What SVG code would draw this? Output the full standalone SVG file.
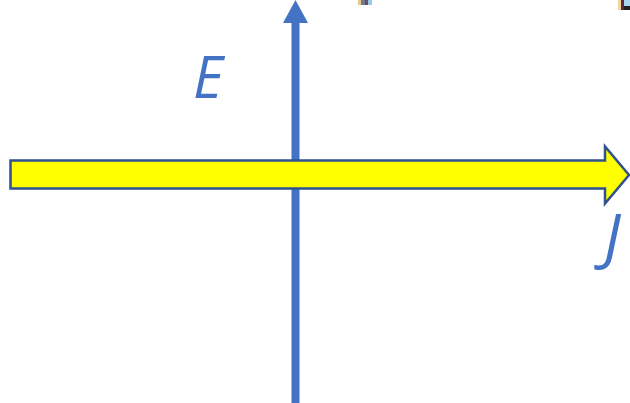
<svg xmlns="http://www.w3.org/2000/svg" width="630" height="403" viewBox="0 0 630 403">
<style>
.lbl{font-family:"Open Sans","Liberation Sans",sans-serif;font-style:italic;font-weight:400;fill:#4472C4;}
</style>
<rect width="630" height="403" fill="#FFFFFF"/>
<g id="connectors">
<line x1="295.5" y1="22" x2="295.5" y2="403" stroke="#4472C4" stroke-width="8"/>
<polygon points="295.5,0 308,23 283,23" fill="#4472C4"/>
</g>
<g id="current-arrow">
<polygon points="10.5,160.5 605,160.5 605,146.5 629,175 605,203.5 605,188.5 10.5,188.5" fill="#FFFF00" stroke="#2F528F" stroke-width="2.5" stroke-linejoin="miter"/>
</g>
<g id="label-E">
<text class="lbl" x="193" y="98" font-size="58">E</text>
</g>
<g id="label-J">
<text class="lbl" x="604" y="259" font-size="62">J</text>
</g>
<g id="artifacts">
<rect x="358" y="0" width="3" height="5" fill="#E8C690"/>
<rect x="361" y="0" width="4" height="5" fill="#6E7A8A"/>
<rect x="365" y="0" width="3" height="5" fill="#6A4A6A"/>
<rect x="368" y="0" width="4" height="5" fill="#9CC8E8"/>
<rect x="618" y="0" width="3" height="10" fill="#F5D69A"/>
<rect x="621" y="0" width="3" height="10" fill="#5A2A40"/>
<rect x="624" y="0" width="6" height="6" fill="#A8D8F0"/>
<rect x="624" y="6" width="6" height="4" fill="#222222"/>
</g>
</svg>
